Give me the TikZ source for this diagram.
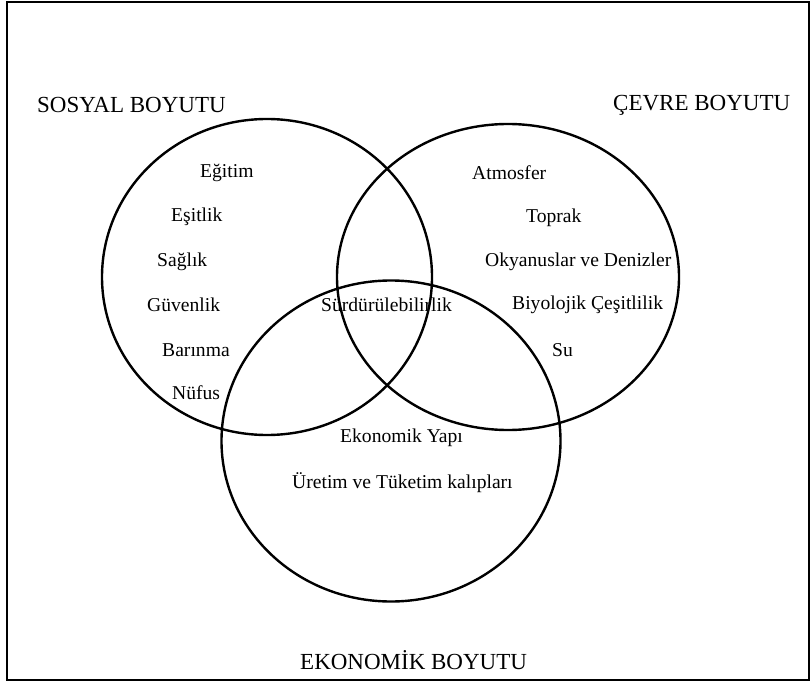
\documentclass[tikz,border=0pt]{standalone}
\usepackage{fontspec}
\setmainfont{Liberation Serif}
\usetikzlibrary{shapes.geometric}

\begin{document}
\begin{tikzpicture}[x=1pt,y=-1pt,
    item/.style={anchor=west,inner sep=0pt,font=\fontsize{19.6}{22}\selectfont},
    head/.style={anchor=west,inner sep=0pt,font=\fontsize{23}{26}\selectfont}]
        \useasboundingbox (0,0) rectangle (812,682);
        \draw[line width=2pt] (7,2) rectangle (809,680);

        \node[shape=ellipse,draw=black,line width=2.4pt,minimum width=330pt,minimum height=316pt,inner sep=0pt] (A) at (267,277) {};
        \node[shape=ellipse,draw=black,line width=2.4pt,minimum width=342pt,minimum height=306pt,inner sep=0pt] (B) at (508,277) {};
        \node[shape=ellipse,draw=black,line width=2.4pt,minimum width=339pt,minimum height=321pt,inner sep=0pt] (C) at (391,441) {};

        \node[head] (hA) at (37,105) {SOSYAL BOYUTU};
        \node[head] (hB) at (613,105) {ÇEVRE BOYUTU};
        \node[head] (hC) at (300,660) {EKONOMİK BOYUTU};

        \node[item] (A1) at (200,173) {Eğitim};
        \node[item] (A2) at (171,217) {Eşitlik};
        \node[item] (A3) at (157,262) {Sağlık};
        \node[item] (A4) at (147,305) {Güvenlik};
        \node[item] (A5) at (162,350) {Barınma};
        \node[item] (A6) at (172,393) {Nüfus};

        \node[item] (B1) at (472,173) {Atmosfer};
        \node[item] (B2) at (526,218) {Toprak};
        \node[item] (B3) at (485,262) {Okyanuslar ve Denizler};
        \node[item] (B4) at (512,305) {Biyolojik Çeşitlilik};
        \node[item] (B5) at (552,350) {Su};

        \node[item] (M) at (321,305) {Sürdürülebilirlik};
        \node[item] (C1) at (340,438) {Ekonomik Yapı};
        \node[item] (C2) at (292,483) {Üretim ve Tüketim kalıpları};
    \end{tikzpicture}
\end{document}
